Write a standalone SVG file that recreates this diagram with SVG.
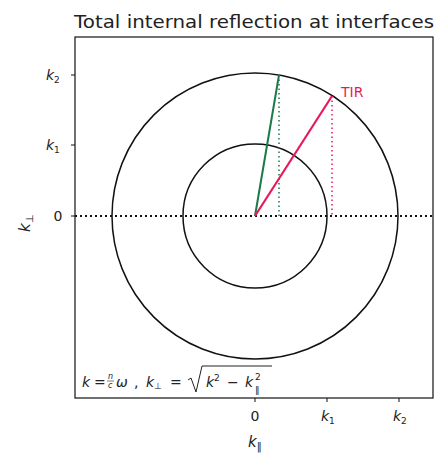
<svg xmlns="http://www.w3.org/2000/svg" width="437" height="458" viewBox="0 0 437 458">
<style>
.t{font-family:"DejaVu Sans",sans-serif;fill:#222}
.m{font-family:"DejaVu Sans",sans-serif;font-style:italic;fill:#222}
.circ{fill:none;stroke:#111;stroke-width:1.5}
.tick{stroke:#111;stroke-width:1}
</style>
<rect width="437" height="458" fill="#fff"/>
<text class="t" x="254" y="28" font-size="18.5" text-anchor="middle" textLength="360" lengthAdjust="spacingAndGlyphs">Total internal reflection at interfaces</text>
<g id="axes">
<rect x="75" y="37" width="358" height="361" fill="none" stroke="#111" stroke-width="1.2"/>
<line class="tick" x1="71" y1="75" x2="75" y2="75"/>
<line class="tick" x1="71" y1="145" x2="75" y2="145"/>
<line class="tick" x1="71" y1="216" x2="75" y2="216"/>
<line class="tick" x1="255" y1="398" x2="255" y2="402"/>
<line class="tick" x1="327" y1="398" x2="327" y2="402"/>
<line class="tick" x1="399" y1="398" x2="399" y2="402"/>
<text class="m" x="46" y="80" font-size="14">k<tspan font-size="9" dy="3" font-style="normal">2</tspan></text>
<text class="m" x="46" y="150" font-size="14">k<tspan font-size="9" dy="3" font-style="normal">1</tspan></text>
<text class="t" x="58" y="221" font-size="14" text-anchor="middle">0</text>
<text class="t" x="255" y="421" font-size="14" text-anchor="middle">0</text>
<text class="m" x="321" y="421" font-size="14">k<tspan font-size="9" dy="3" font-style="normal">1</tspan></text>
<text class="m" x="393" y="421" font-size="14">k<tspan font-size="9" dy="3" font-style="normal">2</tspan></text>
<text class="m" x="248" y="447" font-size="15">k<tspan font-size="10" dy="3" font-style="normal">‖</tspan></text>
<text class="m" transform="translate(30,232) rotate(-90)" font-size="15">k<tspan font-size="10" dy="3" font-style="normal">⊥</tspan></text>
</g>
<g id="circles">
<circle class="circ" cx="255" cy="216" r="72"/>
<circle class="circ" cx="255" cy="216" r="143"/>
</g>
<g id="connectors">
<line x1="75" y1="216" x2="433" y2="216" stroke="#111" stroke-width="2" stroke-dasharray="2,3"/>
<line x1="279" y1="75" x2="279" y2="216" stroke="#1a7a4a" stroke-width="1.5" stroke-dasharray="1.5,3"/>
<line x1="332" y1="96" x2="332" y2="216" stroke="#e8195a" stroke-width="1.5" stroke-dasharray="1.5,3"/>
<line x1="255" y1="216" x2="279" y2="75" stroke="#1a7a4a" stroke-width="2"/>
<line x1="255" y1="216" x2="332" y2="96" stroke="#e8195a" stroke-width="2.2"/>
</g>
<g id="tir">
<text class="t" x="341" y="97" font-size="14" style="fill:#e8195a">TIR</text>
</g>
<g id="formula">
<text class="m" x="82" y="387" font-size="14">k</text>
<text class="t" x="94" y="387" font-size="14">=</text>
<text class="m" x="108" y="379" font-size="8">n</text>
<text class="m" x="108" y="388" font-size="8">c</text>
<line x1="107" y1="381" x2="114" y2="381" stroke="#222" stroke-width="0.6"/>
<text class="m" x="116" y="387" font-size="14">ω</text>
<text class="t" x="134" y="387" font-size="14">,</text>
<text class="m" x="146" y="387" font-size="14">k<tspan font-size="9" dy="2" font-style="normal">⊥</tspan></text>
<text class="t" x="170" y="387" font-size="14">=</text>
<path d="M188,380 L191,378 L196,392 L202,366 L272,366" fill="none" stroke="#222" stroke-width="1"/>
<text class="m" x="206" y="387" font-size="14">k<tspan font-size="9" dy="-6" font-style="normal">2</tspan></text>
<text class="t" x="227" y="387" font-size="14">−</text>
<text class="m" x="245" y="387" font-size="14">k</text>
<text class="t" x="255" y="380" font-size="9">2</text>
<text class="t" x="255" y="393" font-size="9">‖</text>
</g>
</svg>
